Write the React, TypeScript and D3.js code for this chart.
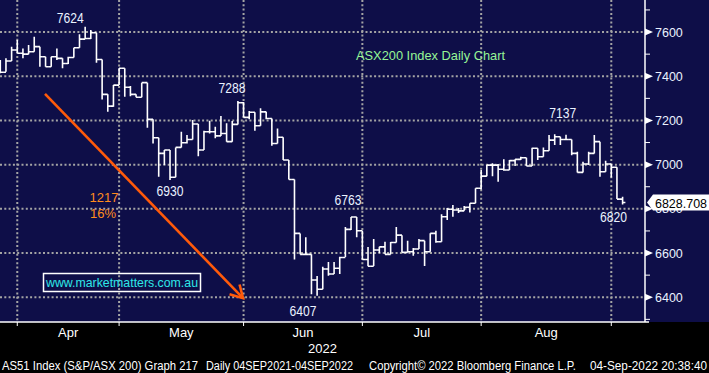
import React from 'react';
import * as d3 from 'd3';

// daily bars, 29 Mar 2022 .. 02 Sep 2022 (open = previous close)
const highs = [
  7473, 7481, 7534, 7564, 7526, 7541, 7579, 7534, 7488, 7488,
  7526, 7481, 7488, 7529, 7590, 7624, 7609, 7597, 7476, 7318,
  7360, 7436, 7436, 7356, 7318, 7371, 7371, 7205, 7122, 7066,
  7066, 7078, 7149, 7134, 7202, 7184, 7153, 7199, 7172, 7220,
  7187, 7197, 7288, 7283, 7243, 7237, 7255, 7239, 7209, 7164,
  7124, 7021, 6933, 6689, 6671, 6595, 6496, 6538, 6559, 6559,
  6583, 6718, 6763, 6763, 6701, 6627, 6663, 6628, 6651, 6650,
  6718, 6681, 6656, 6623, 6663, 6656, 6690, 6701, 6775, 6804,
  6817, 6804, 6813, 6825, 6893, 6976, 6998, 7006, 7003, 7024,
  7021, 7024, 7036, 7031, 7076, 7074, 7078, 7134, 7137, 7126,
  7135, 7114, 7058, 7013, 7058, 7134, 7104, 7018, 7003, 6988,
  6855,
];
const lows = [
  7413, 7420, 7469, 7504, 7481, 7500, 7511, 7443, 7443, 7443,
  7473, 7436, 7455, 7485, 7529, 7568, 7568, 7461, 7295, 7239,
  7262, 7360, 7307, 7310, 7305, 7305, 7167, 7096, 6945, 6998,
  6930, 6943, 7078, 7096, 7114, 7038, 7066, 7141, 7119, 7130,
  7104, 7104, 7182, 7214, 7205, 7153, 7176, 7205, 7085, 7096,
  7021, 6933, 6571, 6594, 6594, 6414, 6407, 6436, 6497, 6505,
  6505, 6582, 6704, 6672, 6571, 6540, 6541, 6600, 6594, 6594,
  6648, 6603, 6603, 6588, 6618, 6541, 6606, 6647, 6651, 6749,
  6764, 6781, 6791, 6783, 6825, 6888, 6948, 6948, 6923, 6972,
  6976, 6994, 7021, 6994, 6994, 7021, 7036, 7063, 7089, 7089,
  7114, 7043, 6965, 6965, 6998, 7051, 6945, 6968, 6942, 6844,
  6820,
];
const closes = [
  7418, 7469, 7519, 7504, 7500, 7511, 7534, 7488, 7443, 7488,
  7481, 7458, 7485, 7529, 7568, 7571, 7597, 7476, 7318, 7265,
  7360, 7436, 7350, 7318, 7305, 7371, 7205, 7122, 7051, 7066,
  6943, 7078, 7099, 7114, 7184, 7066, 7149, 7149, 7130, 7141,
  7104, 7182, 7280, 7214, 7237, 7176, 7239, 7209, 7096, 7124,
  7021, 6933, 6689, 6594, 6594, 6478, 6436, 6528, 6505, 6531,
  6580, 6707, 6763, 6701, 6571, 6540, 6614, 6628, 6594, 6648,
  6681, 6603, 6606, 6618, 6656, 6606, 6689, 6651, 6764, 6798,
  6795, 6791, 6807, 6825, 6893, 6948, 6998, 6998, 6979, 6976,
  7018, 7024, 7031, 6994, 7074, 7036, 7063, 7111, 7126, 7114,
  7114, 7051, 6965, 7003, 7051, 7104, 6968, 7003, 6988, 6844,
  6828.708,
];
const firstOpen = 7450;

// bar index of each month boundary, and the months between them
const monthBreaks = [3, 21, 43, 64, 85, 108];
const monthLabels = ['Apr', 'May', 'Jun', 'Jul', 'Aug'];
const yTicks = [6400, 6600, 6800, 7000, 7200, 7400, 7600];
const yMinorTicks = [6300, 6500, 6700, 6900, 7100, 7300, 7500, 7700];

const peakLabels = [
  { text: '7624', i: 15, v: 7624, dx: -15, dy: -4 },
  { text: '7288', i: 42, v: 7288, dx: -6, dy: -8 },
  { text: '6930', i: 30, v: 6930, dx: 0, dy: 16 },
  { text: '6763', i: 62, v: 6763, dx: -3, dy: -12 },
  { text: '6407', i: 56, v: 6407, dx: -14, dy: 20 },
  { text: '7137', i: 98, v: 7137, dx: 8, dy: -16 },
  { text: '6820', i: 110, v: 6820, dx: -9, dy: 18 },
];

const arrowFrom = { i: 7.9, v: 7320 };
const arrowTo = { i: 42.9, v: 6396 };

const footer = [
  { text: 'AS51 Index (S&P/ASX 200) Graph 217', x: 2, w: 196 },
  { text: 'Daily 04SEP2021-04SEP2022', x: 206, w: 147 },
  { text: 'Copyright\u00A9 2022 Bloomberg Finance L.P.', x: 369, w: 207 },
  { text: '04-Sep-2022 20:38:40', x: 590, w: 117 },
];

const FONT = 'Liberation Sans, Arial, sans-serif';

export default function App() {
  const W = 709;
  const H = 373;
  const plotR = 645;
  const plotB = 322;

  const x = d3.scaleLinear().domain([0, closes.length - 1]).range([0.3, 622.6]);
  const y = d3.scaleLinear().domain([6288, 7745]).range([plotB, 0]);
  const opens = closes.map((c, i) => (i === 0 ? firstOpen : closes[i - 1]));

  const tick = 2.8;
  const barPath = closes
    .map((c, i) => {
      const xi = x(i);
      return `M${xi},${y(highs[i])}V${y(lows[i])}M${xi - tick},${y(opens[i])}H${xi}M${xi},${y(c)}H${xi + tick}`;
    })
    .join('');

  const ax0 = x(arrowFrom.i), ay0 = y(arrowFrom.v);
  const ax1 = x(arrowTo.i), ay1 = y(arrowTo.v);
  const ang = Math.atan2(ay1 - ay0, ax1 - ax0);
  const wing = 14;
  const w1 = [ax1 - wing * Math.cos(ang - Math.PI / 6), ay1 - wing * Math.sin(ang - Math.PI / 6)];
  const w2 = [ax1 - wing * Math.cos(ang + Math.PI / 6), ay1 - wing * Math.sin(ang + Math.PI / 6)];

  const last = closes[closes.length - 1];
  const ly = y(last);

  return (
    <svg width={W} height={H} style={{ position: 'absolute', left: 0, top: 0, display: 'block' }} fontFamily={FONT}>
      <rect x={0} y={0} width={W} height={H} fill="#000" />
      <rect x={0} y={0} width={W} height={plotB} fill="#0e0e48" />

      {/* grid */}
      <g stroke="#a4a4a4" strokeWidth={2} strokeDasharray="2 2.3">
        {yTicks.map((t) => (
          <line key={t} x1={0} x2={plotR} y1={y(t)} y2={y(t)} />
        ))}
        {monthBreaks.map((m) => (
          <line key={m} x1={x(m)} x2={x(m)} y1={0} y2={plotB} />
        ))}
      </g>

      {/* bars */}
      <path d={barPath} fill="none" stroke="#fff" strokeWidth={1.6} />

      {/* peak / trough labels */}
      {peakLabels.map((p) => (
        <text key={p.text} x={x(p.i) + p.dx} y={y(p.v) + p.dy} fill="#eaf2ff" fontSize={14}
          textAnchor="middle" textLength={27} lengthAdjust="spacingAndGlyphs">
          {p.text}
        </text>
      ))}

      {/* arrow */}
      <g stroke="#ff5a0a" strokeWidth={2.6} fill="none" strokeLinecap="butt">
        <line x1={ax0} y1={ay0} x2={ax1} y2={ay1} />
        <polyline points={`${w1[0]},${w1[1]} ${ax1},${ay1} ${w2[0]},${w2[1]}`} />
      </g>
      <text x={104} y={202} fill="#ff8c1e" fontSize={13} textAnchor="middle">1217</text>
      <text x={103} y={218} fill="#ff8c1e" fontSize={13} textAnchor="middle">16%</text>

      <text x={356} y={60} fill="#96f596" fontSize={13} textLength={149} lengthAdjust="spacingAndGlyphs">
        ASX200 Index Daily Chart
      </text>

      <rect x={43.5} y={273.5} width={157} height={18} fill="none" stroke="#fff" strokeWidth={1.5} />
      <text x={46} y={287} fill="#2ee8e8" fontSize={13} textLength={152} lengthAdjust="spacingAndGlyphs">
        www.marketmatters.com.au
      </text>

      {/* axes */}
      <line x1={plotR} x2={plotR} y1={0} y2={plotB} stroke="#fff" strokeWidth={1.5} />
      <line x1={0} x2={plotR + 4} y1={plotB} y2={plotB} stroke="#fff" strokeWidth={1.5} />
      {monthBreaks.map((m) => (
        <line key={m} x1={x(m)} x2={x(m)} y1={plotB} y2={plotB + 4} stroke="#fff" strokeWidth={1} />
      ))}
      {yMinorTicks.map((t) => (
        <line key={t} x1={plotR} x2={plotR + 5} y1={y(t)} y2={y(t)} stroke="#fff" strokeWidth={1} />
      ))}
      {yTicks.map((t) => (
        <g key={t}>
          <path d={`M${plotR},${y(t) - 3.5}L${plotR + 8},${y(t)}L${plotR},${y(t) + 3.5}Z`} fill="#fff" />
          <text x={655} y={y(t) + 4.5} fill="#eaf2ff" fontSize={12.5}>{t}</text>
        </g>
      ))}

      {/* last price marker */}
      <path d={`M${647},${ly}L${653},${ly - 8}H${W}V${ly + 8}H${653}Z`} fill="#fff" />
      <text x={655} y={ly + 5} fill="#000" fontSize={12.5} textLength={52} lengthAdjust="spacingAndGlyphs">
        {last.toFixed(3)}
      </text>

      {/* month labels */}
      {monthLabels.map((m, k) => (
        <text key={m} x={(x(monthBreaks[k]) + x(monthBreaks[k + 1])) / 2} y={337} fill="#fff" fontSize={13}
          textAnchor="middle">
          {m}
        </text>
      ))}
      <text x={plotR / 2} y={353} fill="#fff" fontSize={13} textAnchor="middle">2022</text>

      {footer.map((f) => (
        <text key={f.text} x={f.x} y={370} fill="#fff" fontSize={12} textLength={f.w} lengthAdjust="spacingAndGlyphs">
          {f.text}
        </text>
      ))}
    </svg>
  );
}
